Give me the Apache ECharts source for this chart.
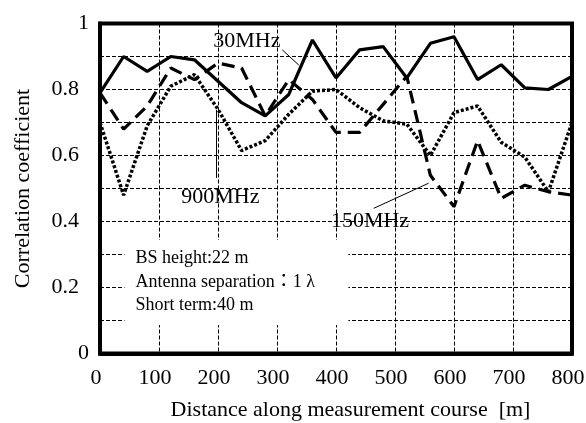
<!DOCTYPE html>
<html>
<head>
<meta charset="utf-8">
<script src="https://cdn.jsdelivr.net/npm/echarts@6/dist/echarts.min.js"></script>
<style>
  html, body { margin: 0; padding: 0; background: #fff; }
  #chart { width: 586px; height: 423px; }
</style>
</head>
<body>
<div id="chart"></div>
<script>
// distance along the course [m], one point every 40 m
const distances = [0, 40, 80, 120, 160, 200, 240, 280, 320, 360, 400, 440, 480, 520, 560, 600, 640, 680, 720, 760, 800]

const corr30MHz = [0.79, 0.90, 0.855, 0.90, 0.89, 0.825, 0.76, 0.72, 0.785, 0.95, 0.835, 0.92, 0.93, 0.835, 0.94, 0.96, 0.83, 0.875, 0.805, 0.80, 0.84]
const corr150MHz = [0.79, 0.68, 0.75, 0.865, 0.83, 0.88, 0.865, 0.72, 0.83, 0.77, 0.67, 0.67, 0.755, 0.84, 0.54, 0.445, 0.645, 0.47, 0.51, 0.49, 0.48]
const corr900MHz = [0.70, 0.48, 0.69, 0.81, 0.845, 0.74, 0.615, 0.645, 0.725, 0.795, 0.80, 0.745, 0.705, 0.695, 0.60, 0.73, 0.75, 0.64, 0.595, 0.49, 0.70]

const yTickLabels = ['0', '0.2', '0.4', '0.6', '0.8', '1']
const infoLines = ['BS height:22 m', 'Antenna separation：1 λ', 'Short term:40 m']

const FONT = "'Liberation Serif', 'Times New Roman', 'Noto Sans CJK JP', serif"

const chart = echarts.init(document.getElementById('chart'), null, { renderer: 'canvas' })

function pairs(values) {
  return distances.map((d, i) => [d, values[i]])
}

function lineSeries(name, values, type, width) {
  return {
    name: name,
    type: 'line',
    data: pairs(values),
    symbol: 'none',
    smooth: false,
    lineStyle: { color: '#000', width: width, type: type, cap: 'butt' },
    z: 3
  }
}

const option = {
  backgroundColor: '#fff',
  animation: false,
  grid: {
    left: 100,
    right: 14,
    top: 23.5,
    bottom: 69.5,
    outerBoundsMode: 'none',
    show: true,
    borderColor: '#000',
    borderWidth: 4,
    backgroundColor: 'transparent'
  },
  xAxis: {
    type: 'value',
    min: 0,
    max: 800,
    interval: 100,
    name: 'Distance along measurement course  [m]',
    nameLocation: 'middle',
    nameGap: 46,
    nameTextStyle: { fontFamily: FONT, fontSize: 22, color: '#000', padding: [0, 0, 0, 29] },
    axisLine: { show: true, lineStyle: { color: '#000', width: 4 } },
    axisTick: { show: false },
    axisLabel: { fontFamily: FONT, fontSize: 22, color: '#000', margin: 14, padding: [0, 8, 0, 0] },
    splitLine: { show: true, lineStyle: { color: '#000', width: 1, type: [4, 2] } }
  },
  yAxis: {
    type: 'value',
    min: 0,
    max: 1,
    interval: 0.1,
    name: 'Correlation coefficient',
    nameLocation: 'middle',
    nameGap: 66,
    nameTextStyle: { fontFamily: FONT, fontSize: 22, color: '#000' },
    axisLine: { show: true, lineStyle: { color: '#000', width: 4 } },
    axisTick: { show: false },
    axisLabel: {
      margin: 11,
      formatter: function (v) {
        const k = Math.round(v * 10)
        if (k % 2 !== 0) return ''
        const txt = yTickLabels[k / 2]
        return txt.length > 1 ? '{d|' + txt + '}' : '{i|' + txt + '}'
      },
      rich: {
        d: { fontFamily: FONT, fontSize: 22, color: '#000', padding: [0, 10, 0, 0] },
        i: { fontFamily: FONT, fontSize: 22, color: '#000' }
      }
    },
    splitLine: { show: true, lineStyle: { color: '#000', width: 1, type: [4, 2] } }
  },
  series: [
    lineSeries('30MHz', corr30MHz, 'solid', 3.2),
    lineSeries('150MHz', corr150MHz, [13, 7], 3.2),
    lineSeries('900MHz', corr900MHz, [3, 2], 3.5)
  ]
}

chart.setOption(option)

// annotations placed in data space, converted to pixels
function px(x, y) {
  return chart.convertToPixel({ gridIndex: 0 }, [x, y])
}

function leader(a, b) {
  const p1 = px(a[0], a[1])
  const p2 = px(b[0], b[1])
  return {
    type: 'line',
    shape: { x1: p1[0], y1: p1[1], x2: p2[0], y2: p2[1] },
    style: { stroke: '#000', lineWidth: 1 },
    z: 20
  }
}

function label(text, at, size) {
  const p = px(at[0], at[1])
  return {
    type: 'text',
    x: p[0],
    y: p[1],
    style: { text: text, font: size + 'px ' + FONT, fill: '#000', align: 'center', verticalAlign: 'middle' },
    z: 21
  }
}

const boxTL = px(41.5, 0.344)
const boxBR = px(421, 0.086)

const elements = [
  {
    type: 'rect',
    shape: { x: boxTL[0], y: boxTL[1], width: boxBR[0] - boxTL[0], height: boxBR[1] - boxTL[1] },
    style: { fill: '#fff' },
    z: 10
  },
  label('30MHz', [249, 0.945], 22),
  leader([309, 0.92], [337, 0.874]),
  label('900MHz', [204, 0.474], 22),
  leader([197.5, 0.738], [197.5, 0.532]),
  label('150MHz', [457.6, 0.40], 22),
  leader([464, 0.44], [557, 0.516])
]

infoLines.forEach(function (t, i) {
  const p = px(60, 0.288 - i * 0.0707)
  elements.push({
    type: 'text',
    x: p[0],
    y: p[1],
    style: { text: t, font: '18px ' + FONT, fill: '#000', align: 'left', verticalAlign: 'middle' },
    z: 21
  })
})

chart.setOption({ graphic: { elements: elements } })
</script>
</body>
</html>
